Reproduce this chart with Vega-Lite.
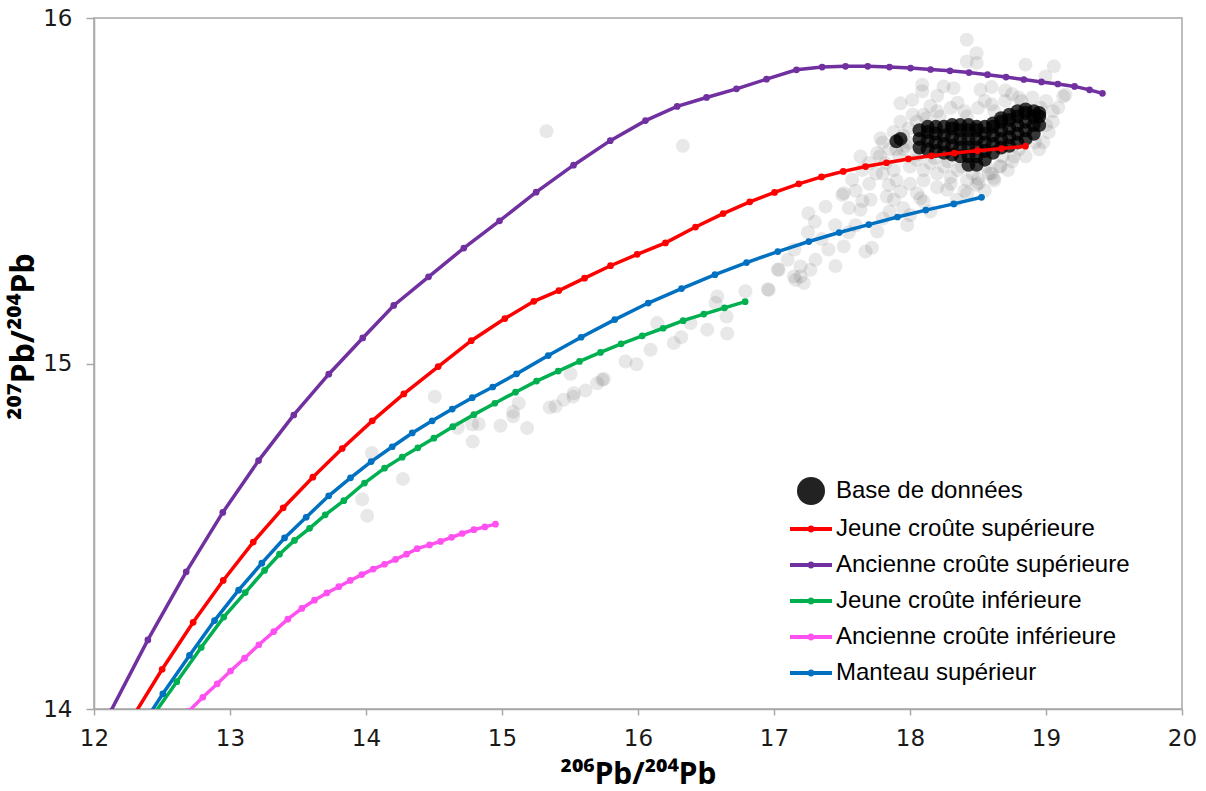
{
"$schema":"https://vega.github.io/schema/vega-lite/v6.json",
"width":1088,"height":691,
"autosize":{"type":"none"},
"padding":{"left":94,"top":18,"right":24,"bottom":82},
"background":"white",
"config":{
 "view":{"stroke":"#a8a8a8","strokeWidth":1.5},
 "axis":{"domainColor":"#a8a8a8","domainWidth":1.5,"tickColor":"#a8a8a8","tickWidth":1.5,"grid":false,"labelOverlap":false,"labelFont":"DejaVu Sans","labelFontSize":23,"labelColor":"#1a1a1a","titleFont":"Noto Sans","titleFontWeight":"bold","titleColor":"#000"}
},
"datasets":{
"courbes":[
{"serie":"Jeune croûte supérieure","x":12.290,"y":13.980},{"serie":"Jeune croûte supérieure","x":12.501,"y":14.115},{"serie":"Jeune croûte supérieure","x":12.729,"y":14.251},{"serie":"Jeune croûte supérieure","x":12.950,"y":14.372},{"serie":"Jeune croûte supérieure","x":13.171,"y":14.483},{"serie":"Jeune croûte supérieure","x":13.391,"y":14.582},{"serie":"Jeune croûte supérieure","x":13.609,"y":14.671},{"serie":"Jeune croûte supérieure","x":13.825,"y":14.754},{"serie":"Jeune croûte supérieure","x":14.046,"y":14.834},{"serie":"Jeune croûte supérieure","x":14.278,"y":14.912},{"serie":"Jeune croûte supérieure","x":14.531,"y":14.991},{"serie":"Jeune croûte supérieure","x":14.774,"y":15.066},{"serie":"Jeune croûte supérieure","x":15.021,"y":15.130},{"serie":"Jeune croûte supérieure","x":15.234,"y":15.180},{"serie":"Jeune croûte supérieure","x":15.418,"y":15.211},{"serie":"Jeune croûte supérieure","x":15.607,"y":15.247},{"serie":"Jeune croûte supérieure","x":15.798,"y":15.283},{"serie":"Jeune croûte supérieure","x":15.994,"y":15.316},{"serie":"Jeune croûte supérieure","x":16.202,"y":15.349},{"serie":"Jeune croûte supérieure","x":16.423,"y":15.395},{"serie":"Jeune croûte supérieure","x":16.626,"y":15.434},{"serie":"Jeune croûte supérieure","x":16.822,"y":15.468},{"serie":"Jeune croûte supérieure","x":17.004,"y":15.495},{"serie":"Jeune croûte supérieure","x":17.182,"y":15.520},{"serie":"Jeune croûte supérieure","x":17.349,"y":15.540},{"serie":"Jeune croûte supérieure","x":17.509,"y":15.556},{"serie":"Jeune croûte supérieure","x":17.673,"y":15.570},{"serie":"Jeune croûte supérieure","x":17.827,"y":15.581},{"serie":"Jeune croûte supérieure","x":17.988,"y":15.592},{"serie":"Jeune croûte supérieure","x":18.158,"y":15.601},{"serie":"Jeune croûte supérieure","x":18.327,"y":15.609},{"serie":"Jeune croûte supérieure","x":18.496,"y":15.616},{"serie":"Jeune croûte supérieure","x":18.673,"y":15.622},{"serie":"Jeune croûte supérieure","x":18.849,"y":15.629},
{"serie":"Ancienne croûte supérieure","x":12.121,"y":13.992},{"serie":"Ancienne croûte supérieure","x":12.396,"y":14.200},{"serie":"Ancienne croûte supérieure","x":12.678,"y":14.397},{"serie":"Ancienne croûte supérieure","x":12.947,"y":14.569},{"serie":"Ancienne croûte supérieure","x":13.210,"y":14.719},{"serie":"Ancienne croûte supérieure","x":13.469,"y":14.851},{"serie":"Ancienne croûte supérieure","x":13.726,"y":14.969},{"serie":"Ancienne croûte supérieure","x":13.976,"y":15.074},{"serie":"Ancienne croûte supérieure","x":14.204,"y":15.168},{"serie":"Ancienne croûte supérieure","x":14.460,"y":15.251},{"serie":"Ancienne croûte supérieure","x":14.719,"y":15.334},{"serie":"Ancienne croûte supérieure","x":14.982,"y":15.413},{"serie":"Ancienne croûte supérieure","x":15.251,"y":15.496},{"serie":"Ancienne croûte supérieure","x":15.526,"y":15.574},{"serie":"Ancienne croûte supérieure","x":15.796,"y":15.645},{"serie":"Ancienne croûte supérieure","x":16.055,"y":15.703},{"serie":"Ancienne croûte supérieure","x":16.288,"y":15.744},{"serie":"Ancienne croûte supérieure","x":16.504,"y":15.770},{"serie":"Ancienne croûte supérieure","x":16.724,"y":15.795},{"serie":"Ancienne croûte supérieure","x":16.945,"y":15.823},{"serie":"Ancienne croûte supérieure","x":17.165,"y":15.850},{"serie":"Ancienne croûte supérieure","x":17.354,"y":15.858},{"serie":"Ancienne croûte supérieure","x":17.526,"y":15.860},{"serie":"Ancienne croûte supérieure","x":17.689,"y":15.860},{"serie":"Ancienne croûte supérieure","x":17.849,"y":15.858},{"serie":"Ancienne croûte supérieure","x":18.004,"y":15.855},{"serie":"Ancienne croûte supérieure","x":18.151,"y":15.851},{"serie":"Ancienne croûte supérieure","x":18.294,"y":15.847},{"serie":"Ancienne croûte supérieure","x":18.434,"y":15.842},{"serie":"Ancienne croûte supérieure","x":18.570,"y":15.836},{"serie":"Ancienne croûte supérieure","x":18.706,"y":15.829},{"serie":"Ancienne croûte supérieure","x":18.837,"y":15.822},{"serie":"Ancienne croûte supérieure","x":18.967,"y":15.815},{"serie":"Ancienne croûte supérieure","x":19.087,"y":15.809},{"serie":"Ancienne croûte supérieure","x":19.210,"y":15.802},{"serie":"Ancienne croûte supérieure","x":19.320,"y":15.792},{"serie":"Ancienne croûte supérieure","x":19.415,"y":15.782},
{"serie":"Jeune croûte inférieure","x":12.434,"y":13.981},{"serie":"Jeune croûte inférieure","x":12.609,"y":14.079},{"serie":"Jeune croûte inférieure","x":12.788,"y":14.178},{"serie":"Jeune croûte inférieure","x":12.954,"y":14.266},{"serie":"Jeune croûte inférieure","x":13.112,"y":14.337},{"serie":"Jeune croûte inférieure","x":13.254,"y":14.401},{"serie":"Jeune croûte inférieure","x":13.364,"y":14.448},{"serie":"Jeune croûte inférieure","x":13.474,"y":14.488},{"serie":"Jeune croûte inférieure","x":13.585,"y":14.523},{"serie":"Jeune croûte inférieure","x":13.700,"y":14.562},{"serie":"Jeune croûte inférieure","x":13.837,"y":14.603},{"serie":"Jeune croûte inférieure","x":13.989,"y":14.654},{"serie":"Jeune croûte inférieure","x":14.136,"y":14.697},{"serie":"Jeune croûte inférieure","x":14.266,"y":14.729},{"serie":"Jeune croûte inférieure","x":14.381,"y":14.756},{"serie":"Jeune croûte inférieure","x":14.499,"y":14.784},{"serie":"Jeune croûte inférieure","x":14.638,"y":14.817},{"serie":"Jeune croûte inférieure","x":14.793,"y":14.852},{"serie":"Jeune croûte inférieure","x":14.947,"y":14.885},{"serie":"Jeune croûte inférieure","x":15.099,"y":14.917},{"serie":"Jeune croûte inférieure","x":15.254,"y":14.949},{"serie":"Jeune croûte inférieure","x":15.413,"y":14.978},{"serie":"Jeune croûte inférieure","x":15.570,"y":15.006},{"serie":"Jeune croûte inférieure","x":15.724,"y":15.032},{"serie":"Jeune croûte inférieure","x":15.876,"y":15.057},{"serie":"Jeune croûte inférieure","x":16.031,"y":15.080},{"serie":"Jeune croûte inférieure","x":16.185,"y":15.102},{"serie":"Jeune croûte inférieure","x":16.332,"y":15.124},{"serie":"Jeune croûte inférieure","x":16.484,"y":15.143},{"serie":"Jeune croûte inférieure","x":16.636,"y":15.161},{"serie":"Jeune croûte inférieure","x":16.788,"y":15.179},
{"serie":"Ancienne croûte inférieure","x":12.695,"y":13.993},{"serie":"Ancienne croûte inférieure","x":12.800,"y":14.034},{"serie":"Ancienne croûte inférieure","x":12.906,"y":14.073},{"serie":"Ancienne croûte inférieure","x":13.004,"y":14.110},{"serie":"Ancienne croûte inférieure","x":13.107,"y":14.147},{"serie":"Ancienne croûte inférieure","x":13.212,"y":14.186},{"serie":"Ancienne croûte inférieure","x":13.322,"y":14.224},{"serie":"Ancienne croûte inférieure","x":13.425,"y":14.260},{"serie":"Ancienne croûte inférieure","x":13.528,"y":14.291},{"serie":"Ancienne croûte inférieure","x":13.621,"y":14.315},{"serie":"Ancienne croûte inférieure","x":13.712,"y":14.336},{"serie":"Ancienne croûte inférieure","x":13.800,"y":14.354},{"serie":"Ancienne croûte inférieure","x":13.884,"y":14.372},{"serie":"Ancienne croûte inférieure","x":13.969,"y":14.389},{"serie":"Ancienne croûte inférieure","x":14.053,"y":14.405},{"serie":"Ancienne croûte inférieure","x":14.136,"y":14.419},{"serie":"Ancienne croûte inférieure","x":14.217,"y":14.433},{"serie":"Ancienne croûte inférieure","x":14.298,"y":14.448},{"serie":"Ancienne croûte inférieure","x":14.376,"y":14.464},{"serie":"Ancienne croûte inférieure","x":14.467,"y":14.475},{"serie":"Ancienne croûte inférieure","x":14.548,"y":14.485},{"serie":"Ancienne croûte inférieure","x":14.629,"y":14.497},{"serie":"Ancienne croûte inférieure","x":14.707,"y":14.508},{"serie":"Ancienne croûte inférieure","x":14.793,"y":14.519},{"serie":"Ancienne croûte inférieure","x":14.874,"y":14.527},{"serie":"Ancienne croûte inférieure","x":14.952,"y":14.535},
{"serie":"Manteau supérieur","x":12.415,"y":13.989},{"serie":"Manteau supérieur","x":12.506,"y":14.044},{"serie":"Manteau supérieur","x":12.702,"y":14.155},{"serie":"Manteau supérieur","x":12.886,"y":14.256},{"serie":"Manteau supérieur","x":13.063,"y":14.344},{"serie":"Manteau supérieur","x":13.234,"y":14.422},{"serie":"Manteau supérieur","x":13.401,"y":14.495},{"serie":"Manteau supérieur","x":13.560,"y":14.555},{"serie":"Manteau supérieur","x":13.726,"y":14.617},{"serie":"Manteau supérieur","x":13.886,"y":14.669},{"serie":"Manteau supérieur","x":14.038,"y":14.716},{"serie":"Manteau supérieur","x":14.193,"y":14.759},{"serie":"Manteau supérieur","x":14.340,"y":14.799},{"serie":"Manteau supérieur","x":14.487,"y":14.834},{"serie":"Manteau supérieur","x":14.634,"y":14.868},{"serie":"Manteau supérieur","x":14.781,"y":14.901},{"serie":"Manteau supérieur","x":14.932,"y":14.932},{"serie":"Manteau supérieur","x":15.107,"y":14.970},{"serie":"Manteau supérieur","x":15.340,"y":15.023},{"serie":"Manteau supérieur","x":15.582,"y":15.076},{"serie":"Manteau supérieur","x":15.829,"y":15.127},{"serie":"Manteau supérieur","x":16.075,"y":15.175},{"serie":"Manteau supérieur","x":16.320,"y":15.217},{"serie":"Manteau supérieur","x":16.566,"y":15.257},{"serie":"Manteau supérieur","x":16.798,"y":15.292},{"serie":"Manteau supérieur","x":17.028,"y":15.324},{"serie":"Manteau supérieur","x":17.256,"y":15.353},{"serie":"Manteau supérieur","x":17.479,"y":15.379},{"serie":"Manteau supérieur","x":17.697,"y":15.402},{"serie":"Manteau supérieur","x":17.908,"y":15.424},{"serie":"Manteau supérieur","x":18.116,"y":15.444},{"serie":"Manteau supérieur","x":18.322,"y":15.462},{"serie":"Manteau supérieur","x":18.526,"y":15.481}
],
"halo":[
{"serie":"Base de données","x":18.10,"y":15.72},{"serie":"Base de données","x":18.20,"y":15.73},{"serie":"Base de données","x":18.30,"y":15.74},{"serie":"Base de données","x":18.40,"y":15.73},{"serie":"Base de données","x":18.50,"y":15.74},{"serie":"Base de données","x":18.60,"y":15.75},{"serie":"Base de données","x":18.70,"y":15.76},{"serie":"Base de données","x":18.80,"y":15.77},{"serie":"Base de données","x":18.90,"y":15.77},{"serie":"Base de données","x":19.00,"y":15.76},{"serie":"Base de données","x":18.15,"y":15.745},{"serie":"Base de données","x":18.35,"y":15.755},{"serie":"Base de données","x":18.55,"y":15.76},{"serie":"Base de données","x":18.75,"y":15.78},{"serie":"Base de données","x":19.05,"y":15.73},{"serie":"Base de données","x":19.05,"y":15.70},{"serie":"Base de données","x":19.02,"y":15.67},{"serie":"Base de données","x":18.98,"y":15.64},
{"serie":"Base de données","x":18.05,"y":15.59},{"serie":"Base de données","x":18.15,"y":15.58},{"serie":"Base de données","x":18.25,"y":15.57},{"serie":"Base de données","x":18.35,"y":15.56},{"serie":"Base de données","x":18.42,"y":15.53},{"serie":"Base de données","x":18.50,"y":15.535},{"serie":"Base de données","x":18.58,"y":15.55},{"serie":"Base de données","x":18.66,"y":15.57},{"serie":"Base de données","x":18.75,"y":15.585},{"serie":"Base de données","x":18.85,"y":15.60},{"serie":"Base de données","x":18.95,"y":15.62},{"serie":"Base de données","x":18.20,"y":15.55},{"serie":"Base de données","x":18.30,"y":15.54},{"serie":"Base de données","x":18.10,"y":15.56},{"serie":"Base de données","x":18.62,"y":15.53},{"serie":"Base de données","x":18.72,"y":15.56},
{"serie":"Base de données","x":17.95,"y":15.66},{"serie":"Base de données","x":17.95,"y":15.62},{"serie":"Base de données","x":17.88,"y":15.67},{"serie":"Base de données","x":17.85,"y":15.62},{"serie":"Base de données","x":17.80,"y":15.64},{"serie":"Base de données","x":17.78,"y":15.60},{"serie":"Base de données","x":17.92,"y":15.60},{"serie":"Base de données","x":17.99,"y":15.68},{"serie":"Base de données","x":17.99,"y":15.64},{"serie":"Base de données","x":17.82,"y":15.58},{"serie":"Base de données","x":17.70,"y":15.58},{"serie":"Base de données","x":17.75,"y":15.55},{"serie":"Base de données","x":17.65,"y":15.56},{"serie":"Base de données","x":17.88,"y":15.56},{"serie":"Base de données","x":18.00,"y":15.57},{"serie":"Base de données","x":17.93,"y":15.70},{"serie":"Base de données","x":18.02,"y":15.72},
{"serie":"Base de données","x":18.05,"y":15.70},{"serie":"Base de données","x":18.12,"y":15.71},{"serie":"Base de données","x":18.22,"y":15.715},{"serie":"Base de données","x":18.42,"y":15.715},{"serie":"Base de données","x":18.62,"y":15.73},{"serie":"Base de données","x":18.82,"y":15.76},{"serie":"Base de données","x":18.96,"y":15.74},{"serie":"Base de données","x":19.00,"y":15.69},{"serie":"Base de données","x":18.92,"y":15.64},{"serie":"Base de données","x":18.80,"y":15.62},{"serie":"Base de données","x":18.68,"y":15.60},{"serie":"Base de données","x":18.56,"y":15.57},{"serie":"Base de données","x":18.46,"y":15.55},{"serie":"Base de données","x":18.38,"y":15.57},{"serie":"Base de données","x":18.28,"y":15.585},{"serie":"Base de données","x":18.18,"y":15.595},{"serie":"Base de données","x":18.05,"y":15.605},{"serie":"Base de données","x":17.97,"y":15.63},{"serie":"Base de données","x":17.90,"y":15.62},
{"serie":"Base de données","x":18.417,"y":15.937},{"serie":"Base de données","x":18.489,"y":15.898},{"serie":"Base de données","x":18.49,"y":15.87},{"serie":"Base de données","x":18.417,"y":15.874},{"serie":"Base de données","x":18.849,"y":15.865},{"serie":"Base de données","x":19.057,"y":15.860},{"serie":"Base de données","x":18.996,"y":15.831},{"serie":"Base de données","x":19.143,"y":15.778},{"serie":"Base de données","x":19.090,"y":15.741},{"serie":"Base de données","x":19.127,"y":15.773},{"serie":"Base de données","x":18.090,"y":15.807},{"serie":"Base de données","x":18.09,"y":15.788},{"serie":"Base de données","x":18.247,"y":15.802},{"serie":"Base de données","x":18.32,"y":15.797},{"serie":"Base de données","x":18.518,"y":15.792},{"serie":"Base de données","x":17.930,"y":15.753},{"serie":"Base de données","x":18.016,"y":15.763},{"serie":"Base de données","x":18.6,"y":15.80},{"serie":"Base de données","x":18.7,"y":15.79},{"serie":"Base de données","x":18.2,"y":15.775},
{"serie":"Base de données","x":17.783,"y":15.652},{"serie":"Base de données","x":17.759,"y":15.609},{"serie":"Base de données","x":17.636,"y":15.599},{"serie":"Base de données","x":17.575,"y":15.532},{"serie":"Base de données","x":17.502,"y":15.488},{"serie":"Base de données","x":17.379,"y":15.454},{"serie":"Base de données","x":17.253,"y":15.435},{"serie":"Base de données","x":17.636,"y":15.445},{"serie":"Base de données","x":17.710,"y":15.474},{"serie":"Base de données","x":17.829,"y":15.483},{"serie":"Base de données","x":17.881,"y":15.474},{"serie":"Base de données","x":17.930,"y":15.498},{"serie":"Base de données","x":17.844,"y":15.517},{"serie":"Base de données","x":18.052,"y":15.493},{"serie":"Base de données","x":18.101,"y":15.469},{"serie":"Base de données","x":18.077,"y":15.478},{"serie":"Base de données","x":18.273,"y":15.503},{"serie":"Base de données","x":18.343,"y":15.474},{"serie":"Base de données","x":18.421,"y":15.493},{"serie":"Base de données","x":18.489,"y":15.517},{"serie":"Base de données","x":18.506,"y":15.522},{"serie":"Base de données","x":18.616,"y":15.537},{"serie":"Base de données","x":18.665,"y":15.571},{"serie":"Base de données","x":18.763,"y":15.599},{"serie":"Base de données","x":17.513,"y":15.493},{"serie":"Base de données","x":17.980,"y":15.401},{"serie":"Base de données","x":17.759,"y":15.382},{"serie":"Base de données","x":17.673,"y":15.324},{"serie":"Base de données","x":17.72,"y":15.335},{"serie":"Base de données","x":17.513,"y":15.339},{"serie":"Base de données","x":17.452,"y":15.282},{"serie":"Base de données","x":17.305,"y":15.300},{"serie":"Base de données","x":17.268,"y":15.271},{"serie":"Base de données","x":17.195,"y":15.252},{"serie":"Base de données","x":17.158,"y":15.242},{"serie":"Base de données","x":17.219,"y":15.233},{"serie":"Base de données","x":17.028,"y":15.272},{"serie":"Base de données","x":16.962,"y":15.213},{"serie":"Base de données","x":16.954,"y":15.215},{"serie":"Base de données","x":16.790,"y":15.209},{"serie":"Base de données","x":16.583,"y":15.194},{"serie":"Base de données","x":16.570,"y":15.175},{"serie":"Base de données","x":17.035,"y":15.271},{"serie":"Base de données","x":17.146,"y":15.252},{"serie":"Base de données","x":17.195,"y":15.281},{"serie":"Base de données","x":16.656,"y":15.087},{"serie":"Base de données","x":16.651,"y":15.136},{"serie":"Base de données","x":16.509,"y":15.098},{"serie":"Base de données","x":16.386,"y":15.117},{"serie":"Base de données","x":16.318,"y":15.076},{"serie":"Base de données","x":16.263,"y":15.059},{"serie":"Base de données","x":16.092,"y":15.040},{"serie":"Base de données","x":15.989,"y":14.998},{"serie":"Base de données","x":15.908,"y":15.006},{"serie":"Base de données","x":16.141,"y":15.117},{"serie":"Base de données","x":15.749,"y":14.955},{"serie":"Base de données","x":15.737,"y":14.953},{"serie":"Base de données","x":15.700,"y":14.943},{"serie":"Base de données","x":15.614,"y":14.922},{"serie":"Base de données","x":15.524,"y":14.904},{"serie":"Base de données","x":15.528,"y":14.914},{"serie":"Base de données","x":15.504,"y":14.970},{"serie":"Base de données","x":15.454,"y":14.895},{"serie":"Base de données","x":15.393,"y":14.876},{"serie":"Base de données","x":15.351,"y":14.873},{"serie":"Base de données","x":15.185,"y":14.813},{"serie":"Base de données","x":15.123,"y":14.885},{"serie":"Base de données","x":15.082,"y":14.847},{"serie":"Base de données","x":15.082,"y":14.86},{"serie":"Base de données","x":14.989,"y":14.820},{"serie":"Base de données","x":14.829,"y":14.825},{"serie":"Base de données","x":14.781,"y":14.824},{"serie":"Base de données","x":14.785,"y":14.774},{"serie":"Base de données","x":14.675,"y":14.814},{"serie":"Base de données","x":14.506,"y":14.904},{"serie":"Base de données","x":14.271,"y":14.666},{"serie":"Base de données","x":14.043,"y":14.741},{"serie":"Base de données","x":13.972,"y":14.607},{"serie":"Base de données","x":14.009,"y":14.559},{"serie":"Base de données","x":15.327,"y":15.672},{"serie":"Base de données","x":16.33,"y":15.63},
{"serie":"Base de données","x":17.6,"y":15.50},{"serie":"Base de données","x":17.7,"y":15.52},{"serie":"Base de données","x":17.8,"y":15.55},{"serie":"Base de données","x":17.9,"y":15.53},{"serie":"Base de données","x":18.0,"y":15.52},{"serie":"Base de données","x":18.1,"y":15.53},{"serie":"Base de données","x":18.2,"y":15.51},{"serie":"Base de données","x":18.3,"y":15.52},{"serie":"Base de données","x":18.4,"y":15.50},{"serie":"Base de données","x":18.55,"y":15.50},{"serie":"Base de données","x":18.6,"y":15.55},{"serie":"Base de données","x":17.55,"y":15.45},{"serie":"Base de données","x":17.65,"y":15.47},{"serie":"Base de données","x":17.85,"y":15.44},{"serie":"Base de données","x":17.95,"y":15.45},{"serie":"Base de données","x":18.15,"y":15.44},{"serie":"Base de données","x":17.45,"y":15.40},{"serie":"Base de données","x":17.55,"y":15.38},{"serie":"Base de données","x":17.35,"y":15.36},{"serie":"Base de données","x":17.4,"y":15.33},{"serie":"Base de données","x":17.6,"y":15.40},{"serie":"Base de données","x":17.8,"y":15.42},{"serie":"Base de données","x":18.0,"y":15.43},{"serie":"Base de données","x":17.3,"y":15.41},{"serie":"Base de données","x":17.15,"y":15.33},{"serie":"Base de données","x":17.1,"y":15.30},{"serie":"Base de données","x":17.25,"y":15.38}
],
"coeur":[
{"serie":"Base de données","x":17.90,"y":15.643},{"serie":"Base de données","x":17.93,"y":15.65},
{"serie":"Base de données","x":18.07,"y":15.625},{"serie":"Base de données","x":18.07,"y":15.65},{"serie":"Base de données","x":18.07,"y":15.675},
{"serie":"Base de données","x":18.13,"y":15.62},{"serie":"Base de données","x":18.13,"y":15.645},{"serie":"Base de données","x":18.13,"y":15.67},{"serie":"Base de données","x":18.13,"y":15.685},
{"serie":"Base de données","x":18.19,"y":15.615},{"serie":"Base de données","x":18.19,"y":15.64},{"serie":"Base de données","x":18.19,"y":15.665},{"serie":"Base de données","x":18.19,"y":15.685},
{"serie":"Base de données","x":18.25,"y":15.61},{"serie":"Base de données","x":18.25,"y":15.635},{"serie":"Base de données","x":18.25,"y":15.66},{"serie":"Base de données","x":18.25,"y":15.685},
{"serie":"Base de données","x":18.31,"y":15.605},{"serie":"Base de données","x":18.31,"y":15.63},{"serie":"Base de données","x":18.31,"y":15.655},{"serie":"Base de données","x":18.31,"y":15.68},{"serie":"Base de données","x":18.31,"y":15.69},
{"serie":"Base de données","x":18.37,"y":15.60},{"serie":"Base de données","x":18.37,"y":15.625},{"serie":"Base de données","x":18.37,"y":15.65},{"serie":"Base de données","x":18.37,"y":15.675},{"serie":"Base de données","x":18.37,"y":15.69},
{"serie":"Base de données","x":18.43,"y":15.575},{"serie":"Base de données","x":18.43,"y":15.60},{"serie":"Base de données","x":18.43,"y":15.625},{"serie":"Base de données","x":18.43,"y":15.65},{"serie":"Base de données","x":18.43,"y":15.675},{"serie":"Base de données","x":18.43,"y":15.69},
{"serie":"Base de données","x":18.49,"y":15.575},{"serie":"Base de données","x":18.49,"y":15.60},{"serie":"Base de données","x":18.49,"y":15.625},{"serie":"Base de données","x":18.49,"y":15.65},{"serie":"Base de données","x":18.49,"y":15.675},{"serie":"Base de données","x":18.49,"y":15.685},
{"serie":"Base de données","x":18.55,"y":15.59},{"serie":"Base de données","x":18.55,"y":15.615},{"serie":"Base de données","x":18.55,"y":15.64},{"serie":"Base de données","x":18.55,"y":15.665},{"serie":"Base de données","x":18.55,"y":15.685},
{"serie":"Base de données","x":18.61,"y":15.61},{"serie":"Base de données","x":18.61,"y":15.635},{"serie":"Base de données","x":18.61,"y":15.66},{"serie":"Base de données","x":18.61,"y":15.685},{"serie":"Base de données","x":18.61,"y":15.695},
{"serie":"Base de données","x":18.67,"y":15.625},{"serie":"Base de données","x":18.67,"y":15.65},{"serie":"Base de données","x":18.67,"y":15.675},{"serie":"Base de données","x":18.67,"y":15.70},{"serie":"Base de données","x":18.67,"y":15.71},
{"serie":"Base de données","x":18.73,"y":15.63},{"serie":"Base de données","x":18.73,"y":15.655},{"serie":"Base de données","x":18.73,"y":15.68},{"serie":"Base de données","x":18.73,"y":15.705},{"serie":"Base de données","x":18.73,"y":15.72},
{"serie":"Base de données","x":18.79,"y":15.64},{"serie":"Base de données","x":18.79,"y":15.665},{"serie":"Base de données","x":18.79,"y":15.69},{"serie":"Base de données","x":18.79,"y":15.715},{"serie":"Base de données","x":18.79,"y":15.73},
{"serie":"Base de données","x":18.85,"y":15.65},{"serie":"Base de données","x":18.85,"y":15.675},{"serie":"Base de données","x":18.85,"y":15.70},{"serie":"Base de données","x":18.85,"y":15.725},{"serie":"Base de données","x":18.85,"y":15.735},
{"serie":"Base de données","x":18.91,"y":15.665},{"serie":"Base de données","x":18.91,"y":15.69},{"serie":"Base de données","x":18.91,"y":15.715},{"serie":"Base de données","x":18.91,"y":15.73},
{"serie":"Base de données","x":18.95,"y":15.69},{"serie":"Base de données","x":18.95,"y":15.715},{"serie":"Base de données","x":18.95,"y":15.725}
]
},
"encoding":{
 "x":{"field":"x","type":"quantitative","scale":{"domain":[12,20],"nice":false,"zero":false},
  "axis":{"values":[12,13,14,15,16,17,18,19,20],"labelExpr":"format(datum.value, '.0f')","title":"²⁰⁶Pb/²⁰⁴Pb","titleFontSize":30,"tickSize":6,"labelPadding":12,"labelFlush":false,"titlePadding":9}},
 "y":{"field":"y","type":"quantitative","scale":{"domain":[14,16],"nice":false,"zero":false},
  "axis":{"values":[14,15,16],"labelExpr":"format(datum.value, '.0f')","title":"²⁰⁷Pb/²⁰⁴Pb","titleFontSize":32,"titleY":318,"tickSize":8,"labelPadding":14,"titlePadding":2}},
 "color":{"field":"serie","type":"nominal",
  "scale":{"domain":["Base de données","Jeune croûte supérieure","Ancienne croûte supérieure","Jeune croûte inférieure","Ancienne croûte inférieure","Manteau supérieur"],"range":["#222222","#ff0000","#7030a0","#00b050","#ff50f0","#0070c0"]},
  "legend":{"title":null,"orient":"none","legendX":703,"legendY":459,"symbolSize":784,"symbolStrokeWidth":0,"symbolOpacity":1,"labelFont":"Liberation Sans","labelFontSize":24,"labelColor":"#000","labelOffset":11,"rowPadding":10,"padding":0,"labelLimit":500}}
},
"layer":[
 {"data":{"name":"halo"},"mark":{"type":"point","filled":true,"size":196,"opacity":0.1,"strokeWidth":0},
  "encoding":{
   "shape":{"field":"serie","type":"nominal","legend":{"title":null,"orient":"none","legendX":703,"legendY":459,"symbolSize":784,"symbolStrokeWidth":0,"symbolOpacity":1,"labelFont":"Liberation Sans","labelFontSize":24,"labelColor":"#000","labelOffset":11,"rowPadding":10,"padding":0,"labelLimit":500},
    "scale":{"domain":["Base de données","Jeune croûte supérieure","Ancienne croûte supérieure","Jeune croûte inférieure","Ancienne croûte inférieure","Manteau supérieur"],
     "range":["circle","M-1.5,-0.14H1.5V0.14H-1.5Z M0.25,0A0.25,0.25,0,1,1,-0.25,0A0.25,0.25,0,1,1,0.25,0Z","M-1.5,-0.14H1.5V0.14H-1.5Z M0.25,0A0.25,0.25,0,1,1,-0.25,0A0.25,0.25,0,1,1,0.25,0Z","M-1.5,-0.14H1.5V0.14H-1.5Z M0.25,0A0.25,0.25,0,1,1,-0.25,0A0.25,0.25,0,1,1,0.25,0Z","M-1.5,-0.14H1.5V0.14H-1.5Z M0.25,0A0.25,0.25,0,1,1,-0.25,0A0.25,0.25,0,1,1,0.25,0Z","M-1.5,-0.14H1.5V0.14H-1.5Z M0.25,0A0.25,0.25,0,1,1,-0.25,0A0.25,0.25,0,1,1,0.25,0Z"]}}}},
 {"data":{"name":"coeur"},"mark":{"type":"point","filled":true,"size":196,"opacity":0.78,"strokeWidth":0,"shape":"circle"},
  "encoding":{"color":{"value":"#000000"}}},
 {"data":{"name":"courbes"},"mark":{"type":"line","strokeWidth":3.5,"clip":true}},
 {"data":{"name":"courbes"},"mark":{"type":"point","filled":true,"size":45,"opacity":1,"clip":true,"shape":"circle"}}
]
}
